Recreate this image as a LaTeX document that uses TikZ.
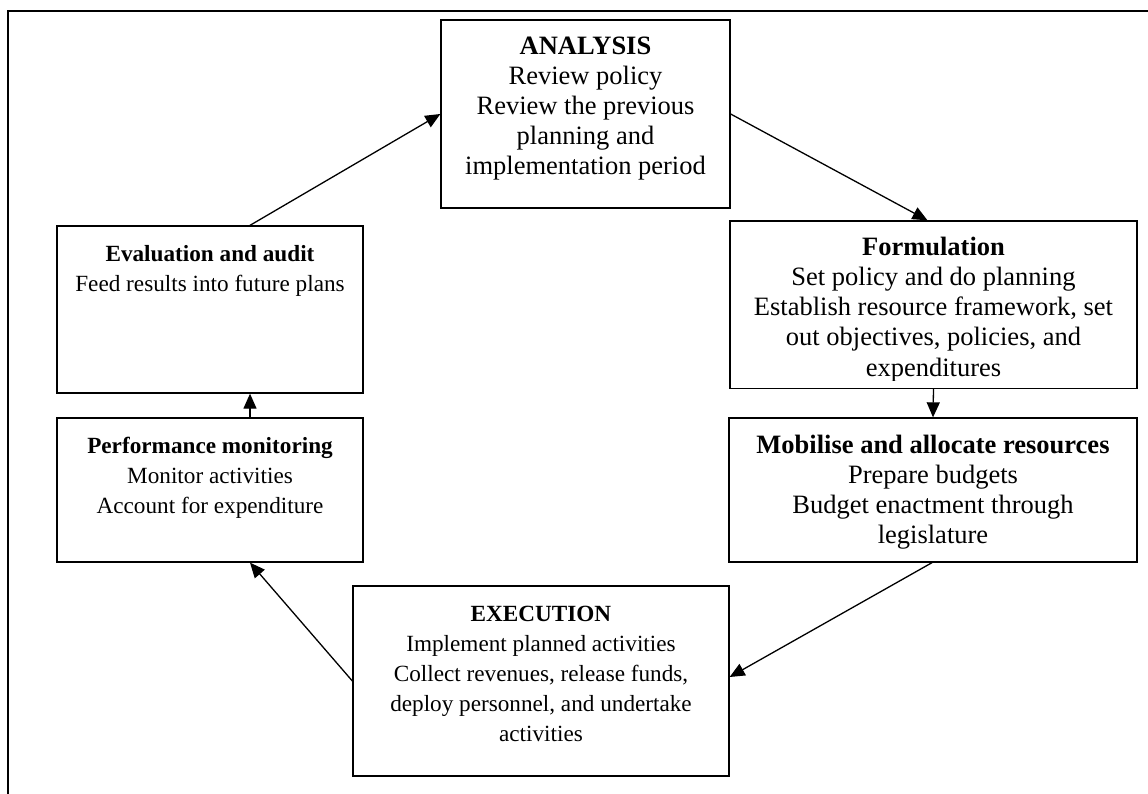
\documentclass[tikz,border=0pt]{standalone}
\usepackage{fontspec}
\setmainfont{Liberation Serif}
\usetikzlibrary{arrows.meta,calc}
\newcommand{\stagetext}[3]{\parbox[c][#2pt][t]{#1pt}{\centering\rule{0pt}{35pt}#3}}
\tikzset{
  stage/.style={draw, line width=1.3pt, inner sep=0pt, font=\fontsize{26.5}{30}\selectfont},
  small/.style={font=\fontsize{23.2}{30}\selectfont},
  arr/.style={line width=1.3pt, -{Triangle[length=15pt,width=13pt]}},
  frame/.style={line width=2.4pt},
}
\begin{document}
\begin{tikzpicture}[x=1pt,y=-1pt]
\useasboundingbox (0,0) rectangle (1148,794);
\coordinate (fa) at (8,794);
\coordinate (fb) at (8,11);
\coordinate (fc) at (1148,11);
\draw[frame] (fa) -- (fb) -- (fc);

\node[stage] (ana) at (585.5,114) {\stagetext{289}{188}{\textbf{ANALYSIS}\\Review policy\\Review the previous\\planning and\\implementation period}};
\node[stage] (form) at (933.5,304.5) {\stagetext{407}{167}{\textbf{Formulation}\\Set policy and do planning\\Establish resource framework, set\\out objectives, policies, and\\expenditures}};
% the last line is cut off by the text box's inner bottom margin
\fill[white] ($(form.south west)+(2,-8)$) rectangle ($(form.south east)+(-2,-0.8)$);
\node[stage] (mob) at (933,490) {\stagetext{408}{144}{\textbf{Mobilise and allocate resources}\\Prepare budgets\\Budget enactment through\\legislature}};
\node[stage, small] (exe) at (541,681) {\stagetext{376}{190}{\textbf{EXECUTION}\\Implement planned activities\\Collect revenues, release funds,\\deploy personnel, and undertake\\activities}};
\node[stage, small] (eval) at (210,309.5) {\stagetext{306}{167}{\textbf{Evaluation and audit}\\Feed results into future plans}};
\node[stage, small] (perf) at (210,490) {\stagetext{306}{144}{\textbf{Performance monitoring}\\Monitor activities\\Account for expenditure}};

\draw[arr] ($(eval.north)+(40,0)$) -- (ana.west);
\draw[arr] (ana.east) -- ($(form.north)+(-6,0)$);
\draw[arr] (form.south) -- (mob.north);
\draw[arr] ($(mob.south)+(-1,0)$) -- ($(exe.east)+(0,-4)$);
\draw[arr] (exe.west) -- ($(perf.south)+(40,0)$);
\draw[arr] ($(perf.north)+(40,0)$) -- ($(eval.south)+(40,0)$);
\end{tikzpicture}
\end{document}
